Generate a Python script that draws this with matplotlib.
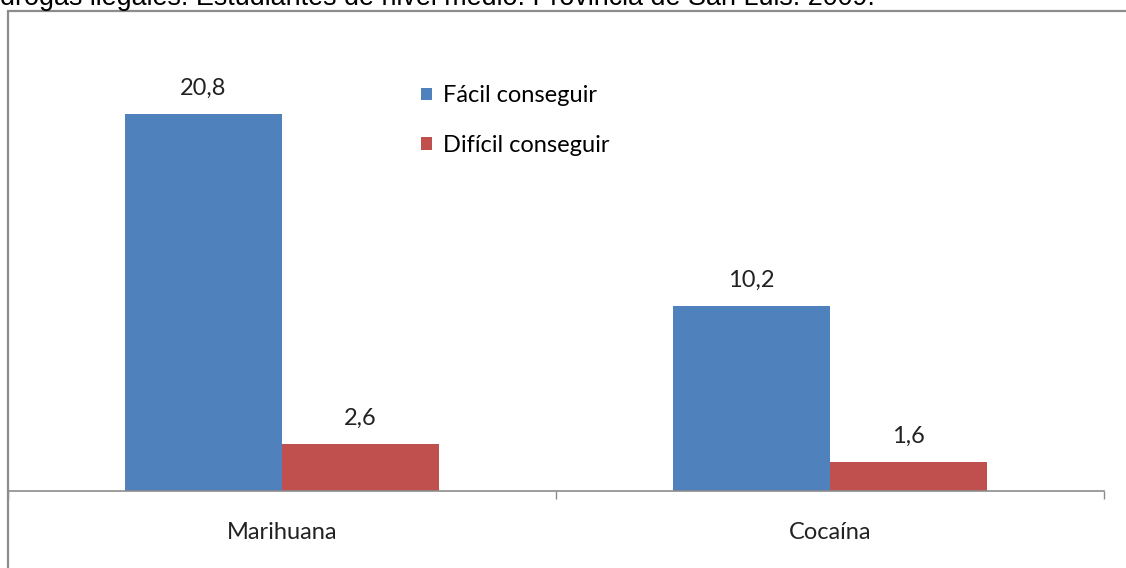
import numpy as np
import matplotlib.pyplot as plt
from matplotlib.patches import Rectangle

categorias = ['Marihuana', 'Cocaína']
facil = [20.8, 10.2]
dificil = [2.6, 1.6]
series = ['Fácil conseguir', 'Difícil conseguir']
titulo = 'drogas ilegales. Estudiantes de nivel medio. Provincia de San Luis. 2009.'

W, H = 1126, 568
fig = plt.figure(figsize=(W / 100, H / 100), dpi=100)

# frame around chart (cut at bottom/right like the source)
fig.patches.append(Rectangle((8 / W, -0.1), 1.2, (H - 11) / H + 0.1, transform=fig.transFigure,
                             fill=False, edgecolor='#8c8c8c', linewidth=1.6))
# title is cut off at the top of the picture, as in the source
fig.text(0.0, 1 - 5 / H, titulo, fontsize=19.4, family='Liberation Sans', ha='left', va='baseline')

ax = fig.add_axes([8 / W, 1 - 491 / H, (1104 - 8) / W, (491 - 38) / H])
x = np.arange(len(categorias))
w = 157 / 547
b1 = ax.bar(x - w / 2, facil, w, color='#4f81bd', label=series[0])
b2 = ax.bar(x + w / 2, dificil, w, color='#c0504d', label=series[1])
ax.set_xlim(-0.5, 1.5)
ax.set_ylim(0, 25)

for bars, vals in [(b1, facil), (b2, dificil)]:
    for r, v in zip(bars, vals):
        ax.annotate(f'{v:.1f}'.replace('.', ','), (r.get_x() + r.get_width() / 2, v),
                    xytext=(0, 11), textcoords='offset points', ha='center', va='bottom',
                    fontsize=17, family='Lato', color='#222222')

for s in ['top', 'right', 'left']:
    ax.spines[s].set_visible(False)
ax.spines['bottom'].set_color('#8c8c8c')
ax.spines['bottom'].set_linewidth(1.2)
ax.set_yticks([])
ax.set_xticks([-0.5, 0.5, 1.5])
ax.set_xticklabels([])
ax.set_xticks(x, minor=True)
ax.set_xticklabels(categorias, minor=True, fontsize=17, family='Lato', color='#222222')
ax.tick_params(axis='x', which='major', length=6, color='#8c8c8c', width=1)
ax.tick_params(axis='x', which='minor', length=0, pad=22)

ax.legend(loc='upper left', bbox_to_anchor=(404 / 1096, 1 - (76 - 38) / 453), frameon=False,
          prop={'family': 'Lato', 'size': 17}, handlelength=0.45, handleheight=0.45,
          handletextpad=0.45, labelspacing=1.2, borderaxespad=0)

plt.savefig('out.png', dpi=100)
